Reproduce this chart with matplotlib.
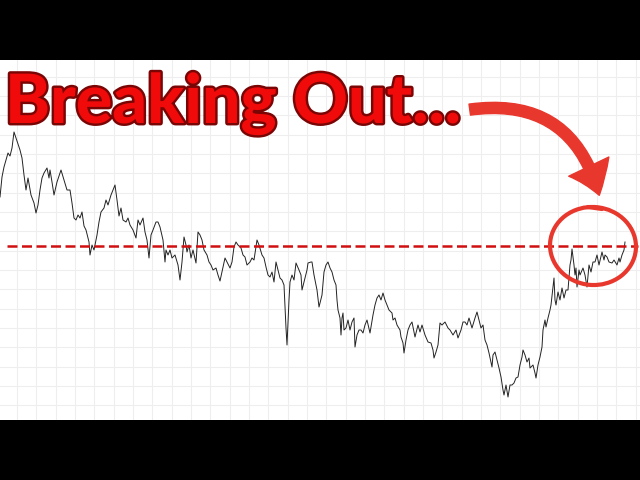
import numpy as np
import matplotlib
matplotlib.use("Agg")
import matplotlib.pyplot as plt
import matplotlib.patheffects as pe
from matplotlib.patches import FancyArrowPatch, Ellipse

# price series (x = bar position, y = price level)
t = [0, 2, 4, 6, 8, 10, 12, 14, 17, 20, 22, 24, 26, 28, 31, 34, 36, 38, 40, 42,
     44, 47, 49, 50, 52, 54, 57, 61, 64, 67, 70, 72, 74, 76, 78, 80, 82, 84, 86, 89,
     90, 92, 94, 97, 99, 101, 104, 106, 108, 111, 113, 115, 117, 119, 121, 123, 126, 128, 130, 133,
     136, 138, 140, 143, 145, 147, 149, 151, 153, 156, 158, 160, 163, 165, 166, 168, 170, 172, 175, 178,
     180, 182, 184, 186, 187, 189, 191, 193, 196, 198, 200, 202, 204, 207, 209, 211, 213, 216, 218, 220,
     222, 225, 227, 230, 232, 234, 236, 238, 241, 243, 245, 247, 250, 252, 254, 257, 259, 262, 264, 266,
     268, 270, 272, 274, 276, 278, 280, 282, 284, 286, 287, 289, 290, 292, 294, 296, 299, 301, 302, 305,
     307, 308, 311, 312, 314, 316, 317, 319, 322, 324, 326, 328, 330, 332, 334, 336, 337, 338, 340, 341,
     342, 343, 344, 346, 348, 350, 352, 354, 355, 357, 359, 361, 363, 365, 367, 370, 373, 375, 377, 379,
     381, 383, 385, 387, 389, 392, 393, 395, 397, 400, 401, 403, 404, 406, 408, 410, 412, 414, 415, 418,
     420, 422, 425, 428, 431, 433, 434, 436, 438, 440, 442, 445, 448, 450, 453, 456, 458, 461, 463, 465,
     467, 469, 472, 475, 477, 479, 481, 483, 485, 487, 489, 492, 493, 495, 497, 499, 501, 503, 504, 506,
     508, 510, 512, 514, 516, 518, 520, 522, 523, 525, 527, 529, 530, 533, 535, 536, 538, 540, 542, 543,
     545, 546, 548, 550, 551, 553, 554, 555, 556, 558, 560, 562, 564, 566, 568, 570, 571, 572, 574, 575,
     576, 577, 579, 580, 583, 585, 587, 589, 591, 593, 595, 597, 599, 602, 604, 605, 607, 609, 612, 614,
     617, 619, 620, 622, 624, 625]
price = [223, 243, 253, 260, 267, 264, 272, 288, 279, 270, 262, 245, 230, 242, 225, 217, 207, 215, 230, 242,
         247, 252, 242, 250, 238, 225, 238, 250, 240, 230, 230, 217, 202, 200, 205, 202, 208, 194, 190, 178,
         165, 175, 170, 185, 198, 208, 212, 220, 215, 225, 230, 235, 220, 204, 212, 200, 198, 202, 195, 190,
         182, 200, 195, 202, 188, 180, 162, 185, 190, 198, 198, 193, 180, 158, 170, 165, 170, 162, 165, 155,
         140, 158, 183, 175, 168, 175, 162, 170, 157, 188, 185, 180, 170, 165, 158, 155, 150, 152, 145, 139,
         148, 162, 158, 152, 158, 173, 178, 175, 172, 165, 163, 155, 158, 162, 160, 180, 175, 165, 162, 153,
         145, 143, 148, 138, 158, 150, 142, 140, 135, 92, 75, 120, 138, 145, 140, 157, 150, 145, 130, 142,
         150, 157, 158, 158, 145, 135, 130, 113, 125, 148, 155, 158, 152, 148, 140, 135, 120, 110, 102, 85,
         102, 107, 90, 92, 100, 90, 98, 102, 73, 85, 90, 90, 87, 95, 100, 87, 105, 115, 122, 125,
         120, 127, 120, 115, 110, 107, 100, 102, 95, 90, 83, 77, 67, 80, 90, 95, 98, 88, 83, 95,
         88, 95, 85, 78, 77, 70, 62, 68, 75, 97, 95, 98, 92, 90, 85, 90, 82, 90, 98, 98,
         95, 102, 92, 102, 108, 100, 92, 95, 80, 75, 67, 53, 65, 68, 60, 52, 43, 30, 25, 35,
         23, 35, 35, 37, 42, 43, 55, 63, 70, 65, 58, 62, 52, 55, 47, 42, 55, 63, 73, 90,
         100, 93, 102, 110, 115, 133, 142, 120, 115, 128, 120, 132, 122, 130, 130, 155, 160, 171, 155, 145,
         152, 133, 150, 145, 152, 145, 133, 155, 148, 158, 158, 165, 155, 168, 160, 165, 163, 158, 157, 160,
         155, 162, 158, 165, 170, 178]

resistance = 174
title = "Breaking Out..."

fig = plt.figure(figsize=(6.4, 4.8), dpi=100, facecolor="black")
ax = fig.add_axes([0, 60 / 480, 1, 360 / 480])
ax.set_facecolor("white")
ax.set_xlim(0, 640)
ax.set_ylim(0, 360)

# light grid, no ticks or spines
ax.set_xticks(np.arange(17, 640, 19.33))
ax.set_yticks(np.arange(14.67, 360, 19.33))
ax.grid(True, color="#eeeeee", linewidth=0.8)
ax.tick_params(length=0, labelbottom=False, labelleft=False)
for s in ax.spines.values():
    s.set_visible(False)

ax.plot(t, price, color="#222222", linewidth=0.7, zorder=3)
ax.axhline(resistance, xmin=7 / 640, xmax=638 / 640, color="#d01010",
           linewidth=1.8, dashes=(4, 1.8), zorder=4)

# headline
txt = ax.text(5, 297, title, fontsize=49, fontweight="black", family="Lato",
              color="#f00a0a", ha="left", va="baseline", zorder=6)
txt.set_path_effects([pe.withStroke(linewidth=3.5, foreground="#7a0505")])

# curved arrow towards the breakout
arrow = FancyArrowPatch((467, 310), (600, 222), connectionstyle="arc3,rad=-0.45",
                        arrowstyle="simple,head_length=22,head_width=32,tail_width=8",
                        color="#e8372c", zorder=6)
ax.add_patch(arrow)

# circle around the breakout
ax.add_patch(Ellipse((593, 174), 86, 78, angle=-5, fill=False,
                     edgecolor="#e8372c", linewidth=3, zorder=6))
ax.plot([588, 602], [213, 211], color="#e8372c", linewidth=3,
        solid_capstyle="round", zorder=6)

fig.savefig("out.png", dpi=100, facecolor="black")
